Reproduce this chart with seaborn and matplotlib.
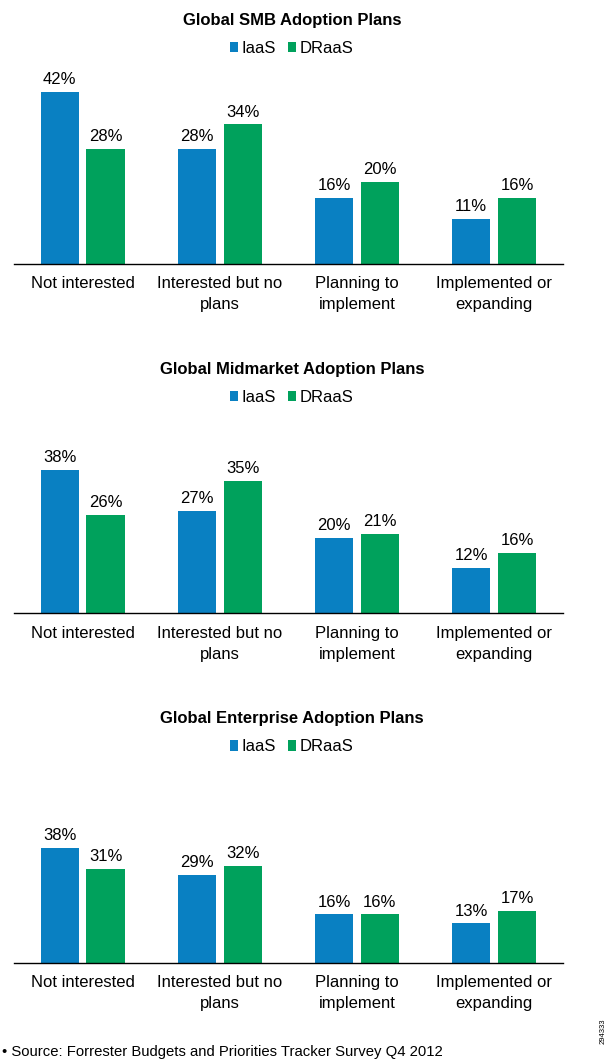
import pandas as pd
import matplotlib.pyplot as plt
import seaborn as sns
from matplotlib.patches import Patch

# Chart data
categories = ["Not interested", "Interested but no\nplans", "Planning to\nimplement", "Implemented or\nexpanding"]
services = ["IaaS", "DRaaS"]
titles = ["Global SMB Adoption Plans",
          "Global Midmarket Adoption Plans",
          "Global Enterprise Adoption Plans"]
smb_iaas = [42, 28, 16, 11]
smb_draas = [28, 34, 20, 16]
mid_iaas = [38, 27, 20, 12]
mid_draas = [26, 35, 21, 16]
ent_iaas = [38, 29, 16, 13]
ent_draas = [31, 32, 16, 17]
source_note = "\u2022 Source: Forrester Budgets and Priorities Tracker Survey Q4 2012"
figure_id = "294333"

panels = [(smb_iaas, smb_draas), (mid_iaas, mid_draas), (ent_iaas, ent_draas)]

sns.set_style("white")
plt.rcParams['font.family'] = ['Liberation Sans', 'DejaVu Sans']
plt.rcParams['text.color'] = 'black'
plt.rcParams['xtick.color'] = 'black'
plt.rcParams['axes.labelcolor'] = 'black'

colors = {"IaaS": "#0980C2", "DRaaS": "#00A15C"}

W, H = 612, 1060
fig = plt.figure(figsize=(W / 100, H / 100), dpi=100)

# layout in pixels (top-down)
baselines = [264, 613.3, 962.7]
ymax = [46.3, 50.3, 62.9]
ax_h = 190
ax_left, ax_w = 14, 548.7

for i, (iaas, draas) in enumerate(panels):
    df = pd.DataFrame({
        "Category": categories * 2,
        "Service": ["IaaS"] * 4 + ["DRaaS"] * 4,
        "Value": iaas + draas,
    })
    base = baselines[i]
    ax = fig.add_axes([ax_left / W, 1 - base / H, ax_w / W, ax_h / H])
    sns.barplot(data=df, x="Category", y="Value", hue="Service", hue_order=services,
                palette=colors, width=0.67, gap=0.17, legend=False, ax=ax,
                saturation=1, edgecolor="none")
    for cont, svc in zip(ax.containers, services):
        vals = df[df["Service"] == svc]["Value"].tolist()
        ax.bar_label(cont, labels=[f"{v}%" for v in vals], padding=3.5, fontsize=12,
                     color="black")
    ax.set_xlim(-0.5, 3.5)
    ax.set_ylim(0, ymax[i])
    ax.set_xlabel("")
    ax.set_ylabel("")
    ax.set_yticks([])
    for s in ["left", "right", "top"]:
        ax.spines[s].set_visible(False)
    ax.spines["bottom"].set_color("black")
    ax.spines["bottom"].set_linewidth(1.0)
    ax.tick_params(axis="x", length=0, pad=9, labelsize=12, labelcolor="black")
    for lbl in ax.get_xticklabels():
        lbl.set_linespacing(1.5)

    fig.text(292 / W, 1 - (base - 244) / H, titles[i], ha="center", va="center",
             fontsize=12, fontweight="bold", color="black")
    handles = [Patch(facecolor=colors[s], edgecolor="none", label=s) for s in services]
    ax.legend(handles=handles, loc="center", ncol=2, frameon=False, fontsize=12,
              bbox_to_anchor=(291.5 / W, 1 - (base - 215.8) / H),
              bbox_transform=fig.transFigure, labelcolor="black",
              handlelength=0.5, handleheight=0.55, handletextpad=0.2,
              columnspacing=0.75)

fig.text(2 / W, 1 - 1052 / H, source_note, ha="left", va="center", fontsize=10.7,
         color="black")
fig.text(603 / W, 1 - 1031.5 / H, figure_id, ha="center", va="center",
         fontsize=5.5, rotation=90, color="black")

fig.savefig("out.png", dpi=100)
plt.close()
